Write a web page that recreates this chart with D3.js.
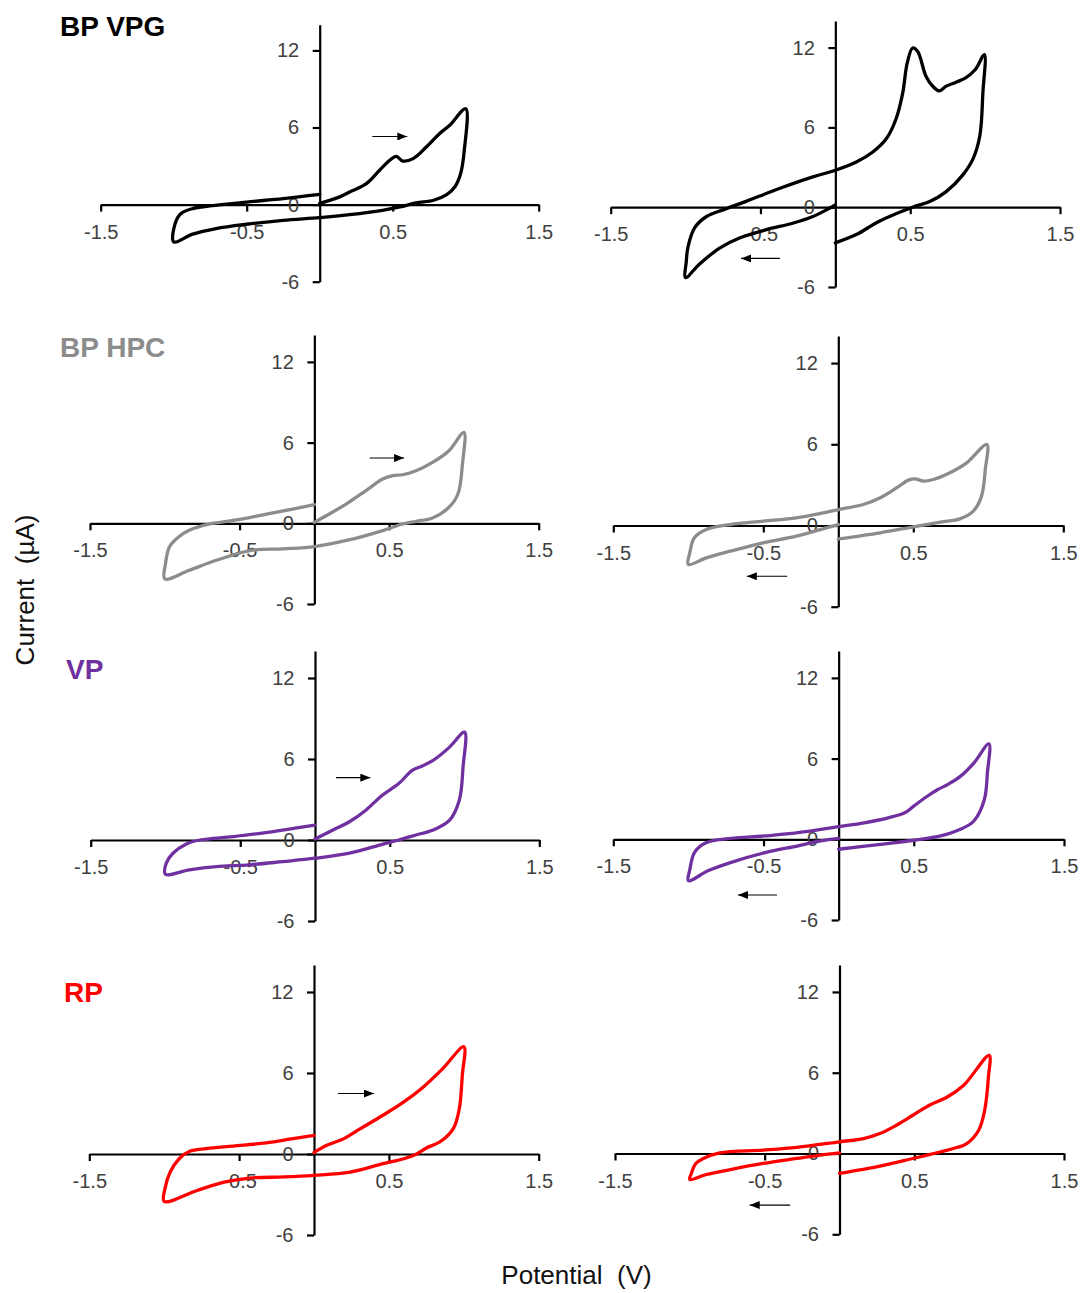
<!DOCTYPE html>
<html><head><meta charset="utf-8">
<script src="https://cdn.jsdelivr.net/npm/d3@7/dist/d3.min.js"></script>
<style>body{margin:0;background:#fff} svg{display:block}</style>
</head><body>
<script>
// ---- axis / category data ----
const xTicks = [-1.5, -0.5, 0.5, 1.5];
const yTicks = [-6, 0, 6, 12];
const xDomain = [-1.5, 1.5];
const yDomain = [-6, 14];
const sampleNames = ["BP VPG", "BP HPC", "VP", "RP"];
const sampleColors = ["#000000", "#8c8c8c", "#7030A0", "#FF0000"];
const xTitle = "Potential  (V)";
const yTitle = "Current  (\u00B5A)";

// ---- series: potential (V) and current (µA) ----
const vpgPosE = [0, 0.137, 0.205, 0.32, 0.41, 0.48, 0.525, 0.57, 0.64, 0.73, 0.82, 0.89, 1.0, 0.99, 0.965, 0.925, 0.87, 0.78, 0.66, 0.55, 0.43, 0.205, 0, -0.25, -0.5, -0.71, -0.87, -1.0, -0.99, -0.95, -0.87, -0.75, -0.5, -0.25, 0];
const vpgPosI = [0.1, 0.6, 0.98, 1.63, 2.67, 3.45, 3.76, 3.39, 3.58, 4.48, 5.52, 6.17, 7.46, 4.2, 2.4, 1.37, 0.78, 0.34, 0.13, -0.18, -0.44, -0.78, -1.01, -1.22, -1.53, -1.87, -2.3, -2.9, -1.48, -0.7, -0.31, -0.1, 0.2, 0.47, 0.8];
const vpgNegE = [0, -0.06, -0.15, -0.28, -0.46, -0.64, -0.77, -0.91, -1.0, -0.995, -0.985, -0.94, -0.86, -0.75, -0.6, -0.37, -0.15, 0, 0.14, 0.25, 0.34, 0.405, 0.45, 0.48, 0.516, 0.55, 0.605, 0.65, 0.694, 0.74, 0.806, 0.87, 0.935, 0.995, 0.985, 0.965, 0.92, 0.85, 0.74, 0.63, 0.516, 0.29, 0.14, 0];
const vpgNegI = [0.17, -0.2, -0.7, -1.19, -1.69, -2.31, -3.05, -4.3, -5.29, -4.05, -3.05, -1.56, -0.7, -0.2, 0.42, 1.42, 2.28, 2.78, 3.4, 4.15, 5.14, 6.63, 8.6, 10.85, 11.97, 11.7, 9.85, 9.1, 8.74, 9.1, 9.4, 9.73, 10.35, 11.47, 8.6, 5.39, 3.65, 2.41, 1.17, 0.42, 0, -1.07, -2.06, -2.68];
const hpcPosE = [0, 0.12, 0.23, 0.345, 0.457, 0.524, 0.59, 0.68, 0.79, 0.9, 1.0, 0.99, 0.96, 0.9, 0.79, 0.68, 0.59, 0.457, 0.23, 0, -0.21, -0.43, -0.66, -0.84, -1.0, -0.995, -0.97, -0.91, -0.84, -0.7, -0.52, -0.32, -0.145, 0];
const hpcPosI = [0.07, 0.82, 1.56, 2.43, 3.29, 3.54, 3.61, 3.91, 4.53, 5.4, 6.76, 4.4, 2.18, 1.19, 0.4, 0.15, -0.05, -0.54, -1.24, -1.73, -1.9, -2.03, -2.77, -3.51, -4.13, -3.0, -1.78, -1.04, -0.54, -0.05, 0.25, 0.69, 1.06, 1.39];
const hpcNegE = [0, -0.12, -0.28, -0.5, -0.72, -0.88, -1.0, -0.99, -0.96, -0.88, -0.72, -0.5, -0.28, -0.12, 0, 0.167, 0.28, 0.39, 0.467, 0.51, 0.567, 0.633, 0.744, 0.856, 0.99, 0.98, 0.955, 0.9, 0.81, 0.68, 0.5, 0.28, 0];
const hpcNegI = [0.07, -0.3, -0.79, -1.28, -1.9, -2.39, -2.88, -2.02, -0.91, -0.3, 0.07, 0.32, 0.57, 0.89, 1.18, 1.55, 2.05, 2.79, 3.35, 3.45, 3.28, 3.4, 3.9, 4.63, 5.99, 4.14, 2.17, 1.06, 0.49, 0.25, -0.1, -0.54, -0.99];
const vpPosE = [0, 0.12, 0.23, 0.34, 0.45, 0.56, 0.65, 0.7, 0.79, 0.9, 1.0, 0.99, 0.965, 0.9, 0.79, 0.675, 0.56, 0.45, 0.23, 0, -0.216, -0.44, -0.66, -0.84, -1.0, -0.995, -0.95, -0.86, -0.77, -0.55, -0.33, -0.1, 0];
const vpPosI = [0.07, 0.74, 1.35, 2.21, 3.32, 4.18, 5.16, 5.4, 5.9, 6.88, 7.99, 5.4, 2.95, 1.47, 0.74, 0.37, 0, -0.32, -0.98, -1.35, -1.6, -1.84, -1.97, -2.21, -2.53, -1.72, -0.98, -0.29, 0, 0.25, 0.54, 0.93, 1.1];
const vpNegE = [0, -0.12, -0.27, -0.49, -0.72, -0.87, -1.0, -0.99, -0.96, -0.89, -0.78, -0.49, -0.27, 0, 0.17, 0.33, 0.44, 0.5, 0.59, 0.66, 0.725, 0.81, 0.9, 1.0, 0.99, 0.97, 0.9, 0.81, 0.68, 0.5, 0.28, 0];
const vpNegI = [0.07, -0.12, -0.49, -0.99, -1.73, -2.34, -3.08, -2.22, -0.99, -0.3, 0, 0.25, 0.49, 0.94, 1.23, 1.6, 1.97, 2.47, 3.2, 3.7, 4.07, 4.68, 5.67, 7.1, 4.93, 2.96, 1.36, 0.74, 0.25, -0.07, -0.37, -0.74];
const rpPosE = [0, 0.085, 0.2, 0.31, 0.46, 0.6, 0.73, 0.86, 1.0, 0.99, 0.97, 0.93, 0.84, 0.75, 0.685, 0.6, 0.46, 0.24, 0, -0.2, -0.43, -0.6, -0.78, -1.0, -0.995, -0.96, -0.9, -0.83, -0.72, -0.54, -0.32, -0.14, 0];
const rpPosI = [0.1, 0.64, 1.14, 1.88, 2.87, 3.86, 4.97, 6.33, 7.94, 5.84, 3.36, 1.88, 0.89, 0.45, 0, -0.35, -0.72, -1.34, -1.58, -1.7, -1.78, -2.08, -2.7, -3.51, -2.57, -1.34, -0.35, 0.2, 0.4, 0.59, 0.82, 1.14, 1.38];
const rpNegE = [0, -0.13, -0.285, -0.51, -0.73, -0.89, -1.0, -0.99, -0.96, -0.91, -0.8, -0.51, -0.285, 0, 0.16, 0.27, 0.38, 0.49, 0.6, 0.72, 0.83, 1.0, 0.995, 0.97, 0.93, 0.85, 0.76, 0.63, 0.49, 0.27, 0];
const rpNegI = [0.05, -0.12, -0.37, -0.74, -1.19, -1.56, -1.93, -1.48, -0.74, -0.37, 0.05, 0.25, 0.45, 0.87, 1.11, 1.48, 2.1, 2.84, 3.59, 4.2, 5.07, 7.29, 5.69, 3.21, 1.73, 0.74, 0.37, 0, -0.37, -0.94, -1.48];

// scan-direction arrows (data coordinates), one per panel
const arrowStartE = [0.36, -0.37, 0.37, -0.34, 0.14, -0.41, 0.16, -0.33];
const arrowEndE   = [0.6, -0.63, 0.6, -0.61, 0.37, -0.67, 0.4, -0.6];
const arrowI      = [5.3, -3.85, 4.85, -3.75, 4.62, -4.14, 4.48, -3.83];

// ---- layout (pixels) ----
const W = 1089, H = 1293;
// [x at -1.5, x at 1.5, y at 14, y at -6]
const panelBoxes = [
  [100.7, 538.7, 24.7, 281.7],
  [610.7, 1060, 21, 287],
  [90, 538.7, 335, 604],
  [613.3, 1063.3, 336, 606.7],
  [90.7, 539.3, 651, 921],
  [613.3, 1064, 651, 920],
  [89.3, 538.7, 965, 1235],
  [615, 1064, 965, 1234.3]
];
const titlePos = [[60, 36], [60, 357], [66, 679], [64, 1001.5]];
const seriesE = [vpgPosE, vpgNegE, hpcPosE, hpcNegE, vpPosE, vpNegE, rpPosE, rpNegE];
const seriesI = [vpgPosI, vpgNegI, hpcPosI, hpcNegI, vpPosI, vpNegI, rpPosI, rpNegI];

const FONT = "'Liberation Sans', Arial, sans-serif";

const svg = d3.select("body").append("svg").attr("width", W).attr("height", H)
  .style("font-family", FONT);

svg.append("defs").append("marker")
  .attr("id", "ah").attr("markerUnits", "userSpaceOnUse")
  .attr("viewBox", "0 0 10 8").attr("refX", 10).attr("refY", 4)
  .attr("markerWidth", 10).attr("markerHeight", 8).attr("orient", "auto")
  .append("path").attr("d", "M0,0 L10,4 L0,8 Z").attr("fill", "#000");

const fmt = d => String(d);

panelBoxes.forEach((b, k) => {
  const row = Math.floor(k / 2);
  const x = d3.scaleLinear().domain(xDomain).range([b[0], b[1]]);
  const y = d3.scaleLinear().domain(yDomain).range([b[3], b[2]]);
  const g = svg.append("g");

  const xa = g.append("g").attr("transform", `translate(0,${y(0)})`)
    .call(d3.axisBottom(x).tickValues(xTicks).tickFormat(fmt).tickSize(7).tickSizeOuter(0).tickPadding(13));
  const ya = g.append("g").attr("transform", `translate(${x(0)},0)`)
    .call(d3.axisLeft(y).tickValues(yTicks).tickFormat(fmt).tickSize(7).tickSizeOuter(0).tickPadding(13.5));
  [xa, ya].forEach(a => {
    a.attr("font-family", FONT).attr("font-size", 20);
    a.select(".domain").attr("stroke", "#000").attr("stroke-width", 2.2);
    a.selectAll(".tick line").attr("stroke", "#000").attr("stroke-width", 2.2);
    a.selectAll(".tick text").attr("fill", "#404040");
  });

  const line = d3.line().x(d => x(d[0])).y(d => y(d[1])).curve(d3.curveCatmullRom.alpha(0.5));
  const pts = seriesE[k].map((e, i) => [e, seriesI[k][i]]);
  g.append("path").attr("d", line(pts)).attr("fill", "none")
    .attr("stroke", sampleColors[row]).attr("stroke-width", 3.3)
    .attr("stroke-linejoin", "round").attr("stroke-linecap", "round");

  g.append("line")
    .attr("x1", x(arrowStartE[k])).attr("x2", x(arrowEndE[k]))
    .attr("y1", y(arrowI[k])).attr("y2", y(arrowI[k]))
    .attr("stroke", "#000").attr("stroke-width", 1.1).attr("marker-end", "url(#ah)");
});

sampleNames.forEach((n, r) => {
  svg.append("text").attr("x", titlePos[r][0]).attr("y", titlePos[r][1])
    .attr("font-size", 28).attr("font-weight", "bold").attr("fill", sampleColors[r])
    .text(n);
});

svg.append("text").attr("x", 576.5).attr("y", 1284).attr("text-anchor", "middle")
  .attr("font-size", 26).attr("fill", "#111").style("white-space", "pre").text(xTitle);
svg.append("text").attr("transform", "translate(34,590) rotate(-90)").attr("text-anchor", "middle")
  .attr("font-size", 26).attr("fill", "#111").style("white-space", "pre").text(yTitle);
</script>
</body></html>
